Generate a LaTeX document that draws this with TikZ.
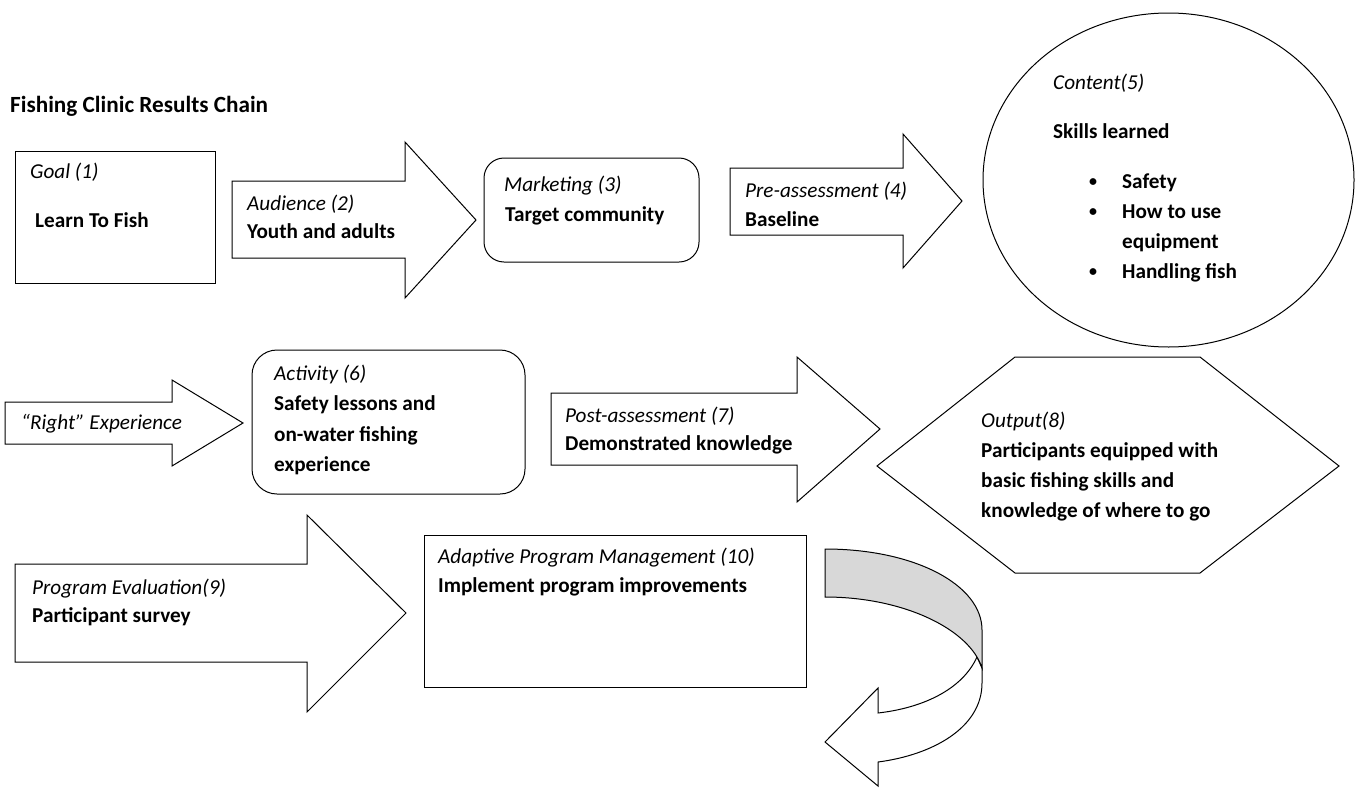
\documentclass[tikz,border=0pt]{standalone}
\usepackage{fontspec}
\setmainfont{Carlito}
\tikzset{
  shp/.style={draw=black, line width=1pt, fill=white, line join=miter},
  lbl/.style={anchor=base west, inner sep=0pt, font=\fontsize{21.2}{25}\selectfont\itshape},
  bld/.style={anchor=base west, inner sep=0pt, font=\fontsize{21.2}{25}\selectfont\bfseries},
  ttl/.style={anchor=base west, inner sep=0pt, font=\fontsize{23.2}{28}\selectfont\bfseries},
  bul/.style={anchor=base, inner sep=0pt, font=\fontsize{16}{20}\selectfont\bfseries},
}
\begin{document}
\begin{tikzpicture}[x=1pt,y=-1pt]
\useasboundingbox (0,0) rectangle (1356,787);

% title
\node[ttl] (title) at (10,112) {Fishing Clinic Results Chain};

% (1) goal box
\draw[shp] (15,151) rectangle (215,283);
\node[lbl] (goalA) at (30,178) {Goal (1)};
\node[bld] (goalB) at (35,227) {Learn To Fish};

% (2) audience arrow
\draw[shp] (232,181) -- (405,181) -- (405,142) -- (476,220) -- (405,298) -- (405,258) -- (232,258) -- cycle;
\node[lbl] (audA) at (247,210) {Audience (2)};
\node[bld] (audB) at (247,238) {Youth and adults};

% (3) marketing
\draw[shp, rounded corners=20pt] (484,158) rectangle (699,262);
\node[lbl] (mktA) at (504,191) {Marketing (3)};
\node[bld] (mktB) at (505,221) {Target community};

% (4) pre-assessment arrow
\draw[shp] (730,168) -- (903,168) -- (903,134) -- (962,201) -- (903,268) -- (903,235) -- (730,235) -- cycle;
\node[lbl] (preA) at (745,197) {Pre-assessment (4)};
\node[bld] (preB) at (745,226) {Baseline};

% (5) content ellipse
\draw[shp] (1168.5,180) ellipse [x radius=185.5, y radius=167];
\node[lbl] (conA) at (1053,89) {Content(5)};
\node[bld] (conB) at (1053,138) {Skills learned};
\node[bul] (b1) at (1093,186) {•};
\node[bld] (i1) at (1122,188) {Safety};
\node[bul] (b2) at (1093,216) {•};
\node[bld] (i2) at (1122,218) {How to use};
\node[bld] (i2b) at (1122,248) {equipment};
\node[bul] (b3) at (1093,276) {•};
\node[bld] (i3) at (1122,278) {Handling fish};

% "Right" experience arrow
\draw[shp] (5,402) -- (172,402) -- (172,380) -- (243,423) -- (172,466) -- (172,444) -- (5,444) -- cycle;
\node[lbl] (rightA) at (21,429) {“Right” Experience};

% (6) activity
\draw[shp, rounded corners=25pt] (252,350) rectangle (525,494);
\node[lbl] (actA) at (274,380) {Activity (6)};
\node[bld] (actB) at (274,410.5) {Safety lessons and};
\node[bld] (actC) at (274,441) {on-water fishing};
\node[bld] (actD) at (274,471.5) {experience};

% (7) post-assessment arrow
\draw[shp] (551,393) -- (797,393) -- (797,357) -- (880,429) -- (797,502) -- (797,465) -- (551,465) -- cycle;
\node[lbl] (postA) at (565,422) {Post-assessment (7)};
\node[bld] (postB) at (565,450) {Demonstrated knowledge};

% (8) output hexagon
\draw[shp] (877,466) -- (1015,357) -- (1200,357) -- (1339,466) -- (1200,573) -- (1015,573) -- cycle;
\node[lbl] (outA) at (981,427) {Output(8)};
\node[bld] (outB) at (981,457) {Participants equipped with};
\node[bld] (outC) at (981,487) {basic fishing skills and};
\node[bld] (outD) at (981,517) {knowledge of where to go};

% (9) program evaluation arrow
\draw[shp] (15,564) -- (307,564) -- (307,515) -- (406,613) -- (307,712) -- (307,662) -- (15,662) -- cycle;
\node[lbl] (evalA) at (32,594) {Program Evaluation(9)};
\node[bld] (evalB) at (32,622) {Participant survey};

% (10) adaptive management
\draw[shp] (424,535) rectangle (806,687);
\node[lbl] (adpA) at (438,563) {Adaptive Program Management (10)};
\node[bld] (adpB) at (438,592) {Implement program improvements};

% curved (turning) arrow
\draw[shp] (977,657) .. controls (962,690) and (922,708) .. (878,713)
  -- (878,688) -- (825,742) -- (878,786) -- (878,762)
  .. controls (932,755) and (982,728) .. (982,683) -- (982,668) -- cycle;
\draw[shp, fill={rgb,255:red,216;green,216;blue,216}] (825,549) .. controls (915,549) and (982,585) .. (982,630)
  -- (982,668) .. controls (970,630) and (905,597) .. (825,597) -- cycle;
\end{tikzpicture}
\end{document}
